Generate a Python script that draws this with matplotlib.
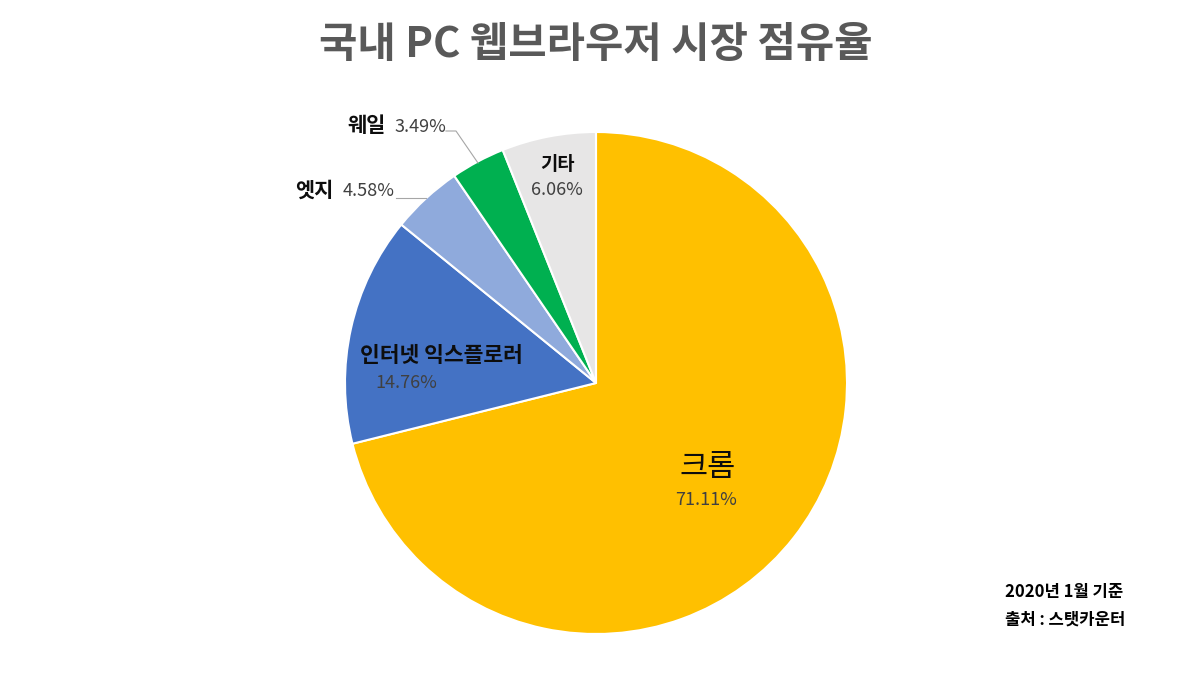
import matplotlib.pyplot as plt

plt.rcParams['font.family'] = ['Noto Sans CJK KR', 'DejaVu Sans']

# 데이터
browsers = ['크롬', '인터넷 익스플로러', '엣지', '웨일', '기타']
shares = [71.11, 14.76, 4.58, 3.49, 6.06]
colors = ['#FFC000', '#4472C4', '#8FAADC', '#00B050', '#E7E6E6']

W, H = 1191, 678
fig = plt.figure(figsize=(W / 100, H / 100), dpi=100)
ax = fig.add_axes([0, 0, 1, 1])

cx, cy, r = 596, H - 383, 251
ax.pie(shares, colors=colors, startangle=90, counterclock=False,
       center=(cx, cy), radius=r, frame=True,
       wedgeprops=dict(edgecolor='white', linewidth=1.5))
ax.set_xlim(0, W)
ax.set_ylim(0, H)
ax.set_aspect('equal')
ax.axis('off')

name_c = '#0D0D0D'
pct_c = '#404040'

# 크롬
ax.text(708, H - 467, browsers[0], fontsize=22, color=name_c, ha='center', va='center')
ax.text(706, H - 500, f'{shares[0]:.2f}%', fontsize=13, color=pct_c, ha='center', va='center')
# 인터넷 익스플로러
ax.text(441, H - 355, browsers[1], fontsize=15.5, fontweight='bold', color=name_c, ha='center', va='center')
ax.text(406, H - 383, f'{shares[1]:.2f}%', fontsize=13, color=pct_c, ha='center', va='center')
# 기타
ax.text(557, H - 164, browsers[4], fontsize=13.5, fontweight='bold', color=name_c, ha='center', va='center')
ax.text(557, H - 190, f'{shares[4]:.2f}%', fontsize=13, color=pct_c, ha='center', va='center')
# 엣지
ax.text(314, H - 190, browsers[2], fontsize=15, fontweight='bold', color=name_c, ha='center', va='center')
ax.text(369, H - 191, f'{shares[2]:.2f}%', fontsize=13, color=pct_c, ha='center', va='center')
ax.plot([396, 426], [H - 198, H - 198], color='#A6A6A6', lw=0.8)
# 웨일
ax.text(367, H - 126, browsers[3], fontsize=15, fontweight='bold', color=name_c, ha='center', va='center')
ax.text(420, H - 127, f'{shares[3]:.2f}%', fontsize=13, color=pct_c, ha='center', va='center')
ax.plot([446, 456, 478], [H - 131, H - 131, H - 163], color='#A6A6A6', lw=0.8)

# 제목 및 출처
fig.text(0.5, 1 - 45 / H, '국내 PC 웹브라우저 시장 점유율', fontsize=30, fontweight='bold',
         color='#595959', ha='center', va='center')
ax.text(1005, H - 592, '2020년 1월 기준', fontsize=12, fontweight='bold', color='black', ha='left', va='center')
ax.text(1005, H - 620, '출처 : 스탯카운터', fontsize=12, fontweight='bold', color='black', ha='left', va='center')

fig.savefig('out.png', dpi=100, facecolor='white')
